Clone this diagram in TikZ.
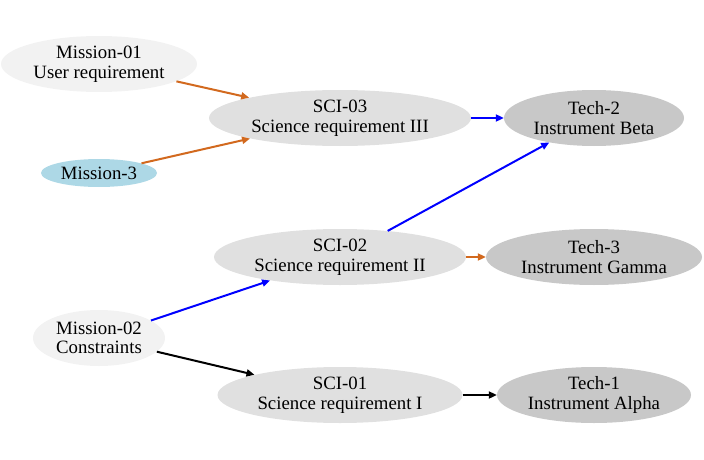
\documentclass[tikz,border=0pt]{standalone}
\usepackage{fontspec}
\setmainfont{Liberation Serif}
\usetikzlibrary{shapes.geometric,arrows.meta}
\definecolor{missionfill}{HTML}{F2F2F2}
\definecolor{scifill}{HTML}{E0E0E0}
\definecolor{techfill}{HTML}{C8C8C8}
\definecolor{bluefill}{HTML}{ADD8E6}
\definecolor{chocolate}{HTML}{D2691E}
\tikzset{
	req/.style={ellipse, inner sep=0pt, align=center, font=\fontsize{18.8}{19.5}\selectfont, minimum height=56pt},
	mission/.style={req, fill=missionfill},
	sci/.style={req, fill=scifill},
	tech/.style={req, fill=techfill},
	link/.style={line width=2pt, -{Triangle[length=8pt,width=7pt]}},
	orangelink/.style={link, draw=chocolate},
	bluelink/.style={link, draw=blue}
}
\begin{document}
\begin{tikzpicture}[x=1pt,y=1pt]
\useasboundingbox (0,0) rectangle (704,459);
\node[mission, minimum width=196pt] (m01) at (99,395) {Mission-01\\User requirement};
\node[req, fill=bluefill, minimum width=116pt, minimum height=28pt] (m3) at (99,286) {Mission-3};
\node[mission, minimum width=132pt] (m02) at (99,121) {Mission-02\\Constraints};
\node[sci, minimum width=262pt] (sci03) at (340,341) {SCI-03\\Science requirement III};
\node[sci, minimum width=252pt] (sci02) at (340,202) {SCI-02\\Science requirement II};
\node[sci, minimum width=245pt] (sci01) at (340,64) {SCI-01\\Science requirement I};
\node[tech, minimum width=180pt] (t2) at (594,341) {Tech-2\\Instrument Beta};
\node[tech, minimum width=216pt] (t3) at (594,202) {Tech-3\\Instrument Gamma};
\node[tech, minimum width=194pt] (t1) at (594,64) {Tech-1\\Instrument Alpha};
\draw[orangelink] (m01) -- (sci03);
\draw[orangelink] (m3) -- (sci03);
\draw[bluelink] (sci03) -- (t2);
\draw[bluelink] (sci02) -- (t2);
\draw[orangelink] (sci02) -- (t3);
\draw[bluelink] (m02) -- (sci02);
\draw[link] (m02) -- (sci01);
\draw[link] (sci01) -- (t1);
\end{tikzpicture}
\end{document}
